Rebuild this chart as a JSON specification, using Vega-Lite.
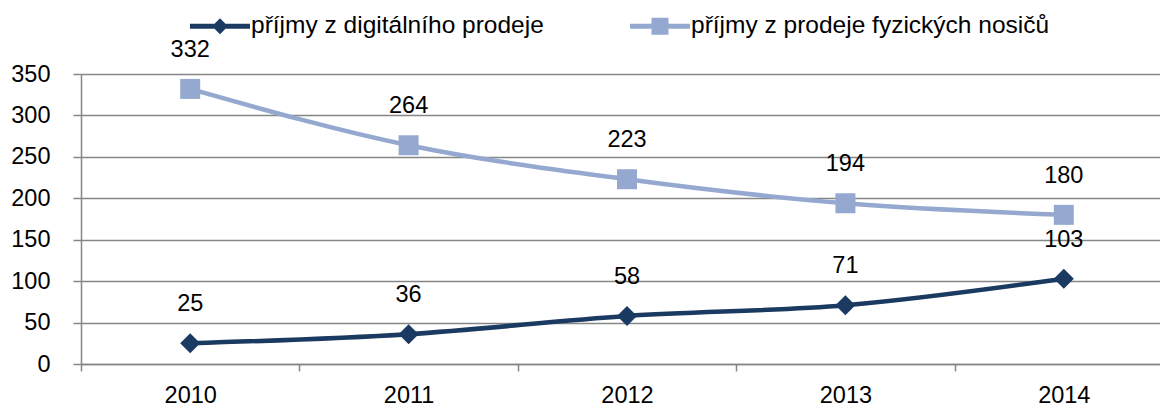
{
  "$schema": "https://vega.github.io/schema/vega-lite/v6.json",
  "width": 1079,
  "height": 290,
  "autosize": {"type": "none"},
  "padding": {"left": 81, "top": 74, "right": 0, "bottom": 44},
  "background": "white",
  "config": {
    "view": {"stroke": null},
    "font": "Liberation Sans",
    "axis": {"labelFont": "Liberation Sans", "labelFontSize": 23.5, "labelColor": "#000000"},
    "legend": {
      "orient": "none", "direction": "horizontal", "columns": 2,
      "legendX": 109, "legendY": -78, "padding": 0,
      "labelFont": "Liberation Sans", "labelFontSize": 24.5, "labelColor": "#000000", "labelLimit": 600,
      "symbolSize": 3600, "labelOffset": 1, "columnPadding": 86, "symbolOpacity": 1, "symbolStrokeWidth": 0
    }
  },
  "data": {
    "values": [
      {"rok": "2010", "serie": "příjmy z digitálního prodeje", "hodnota": 25},
      {"rok": "2011", "serie": "příjmy z digitálního prodeje", "hodnota": 36},
      {"rok": "2012", "serie": "příjmy z digitálního prodeje", "hodnota": 58},
      {"rok": "2013", "serie": "příjmy z digitálního prodeje", "hodnota": 71},
      {"rok": "2014", "serie": "příjmy z digitálního prodeje", "hodnota": 103},
      {"rok": "2010", "serie": "příjmy z prodeje fyzických nosičů", "hodnota": 332},
      {"rok": "2011", "serie": "příjmy z prodeje fyzických nosičů", "hodnota": 264},
      {"rok": "2012", "serie": "příjmy z prodeje fyzických nosičů", "hodnota": 223},
      {"rok": "2013", "serie": "příjmy z prodeje fyzických nosičů", "hodnota": 194},
      {"rok": "2014", "serie": "příjmy z prodeje fyzických nosičů", "hodnota": 180}
    ]
  },
  "encoding": {
    "x": {
      "field": "rok", "type": "nominal", "title": null,
      "scale": {"type": "band", "paddingInner": 0, "paddingOuter": 0, "range": [0, 1092]},
      "axis": {
        "labelAngle": 0, "tickBand": "extent", "domainColor": "#868686", "domainWidth": 1.5,
        "tickColor": "#868686", "tickWidth": 1.5, "tickSize": 7, "labelPadding": 12, "grid": false
      }
    },
    "y": {
      "field": "hodnota", "type": "quantitative", "title": null,
      "scale": {"domain": [0, 350], "nice": false},
      "axis": {
        "values": [0, 50, 100, 150, 200, 250, 300, 350],
        "domainColor": "#868686", "domainWidth": 1.5, "tickColor": "#868686", "tickWidth": 1.5,
        "tickSize": 8, "labelPadding": 23, "gridColor": "#868686", "gridWidth": 1.5
      }
    }
  },
  "layer": [
    {
      "transform": [{"filter": "datum.hodnota < 0"}],
      "mark": {"type": "point", "filled": true, "opacity": 1},
      "encoding": {
        "color": {
          "field": "serie", "type": "nominal", "title": null,
          "scale": {"domain": ["příjmy z digitálního prodeje", "příjmy z prodeje fyzických nosičů"], "range": ["#1B3A61", "#95A9D0"]}
        },
        "shape": {
          "field": "serie", "type": "nominal", "title": null,
          "scale": {
            "domain": ["příjmy z digitálního prodeje", "příjmy z prodeje fyzických nosičů"],
            "range": [
              "M-1,-0.083H-0.183L0,-0.267L0.183,-0.083H1V0.083H0.183L0,0.267L-0.183,0.083H-1Z",
              "M-1,-0.083H-0.283V-0.283H0.283V-0.083H1V0.083H0.283V0.283H-0.283V0.083H-1Z"
            ]
          }
        }
      }
    },
    {
      "mark": {"type": "line", "strokeWidth": 4.5, "interpolate": "monotone"},
      "encoding": {
        "color": {"field": "serie", "type": "nominal", "title": null}
      }
    },
    {
      "transform": [{"filter": "datum.serie === 'příjmy z digitálního prodeje'"}],
      "mark": {"type": "point", "filled": true, "opacity": 1, "shape": "diamond", "size": 400},
      "encoding": {
        "color": {"field": "serie", "type": "nominal", "title": null}
      }
    },
    {
      "transform": [{"filter": "datum.serie === 'příjmy z prodeje fyzických nosičů'"}],
      "mark": {"type": "point", "filled": true, "opacity": 1, "shape": "square", "size": 400},
      "encoding": {
        "color": {"field": "serie", "type": "nominal", "title": null}
      }
    },
    {
      "mark": {"type": "text", "dy": -39, "fontSize": 23.5, "font": "Liberation Sans"},
      "encoding": {
        "text": {"field": "hodnota", "type": "quantitative"},
        "color": {"value": "#000000"}
      }
    }
  ]
}
